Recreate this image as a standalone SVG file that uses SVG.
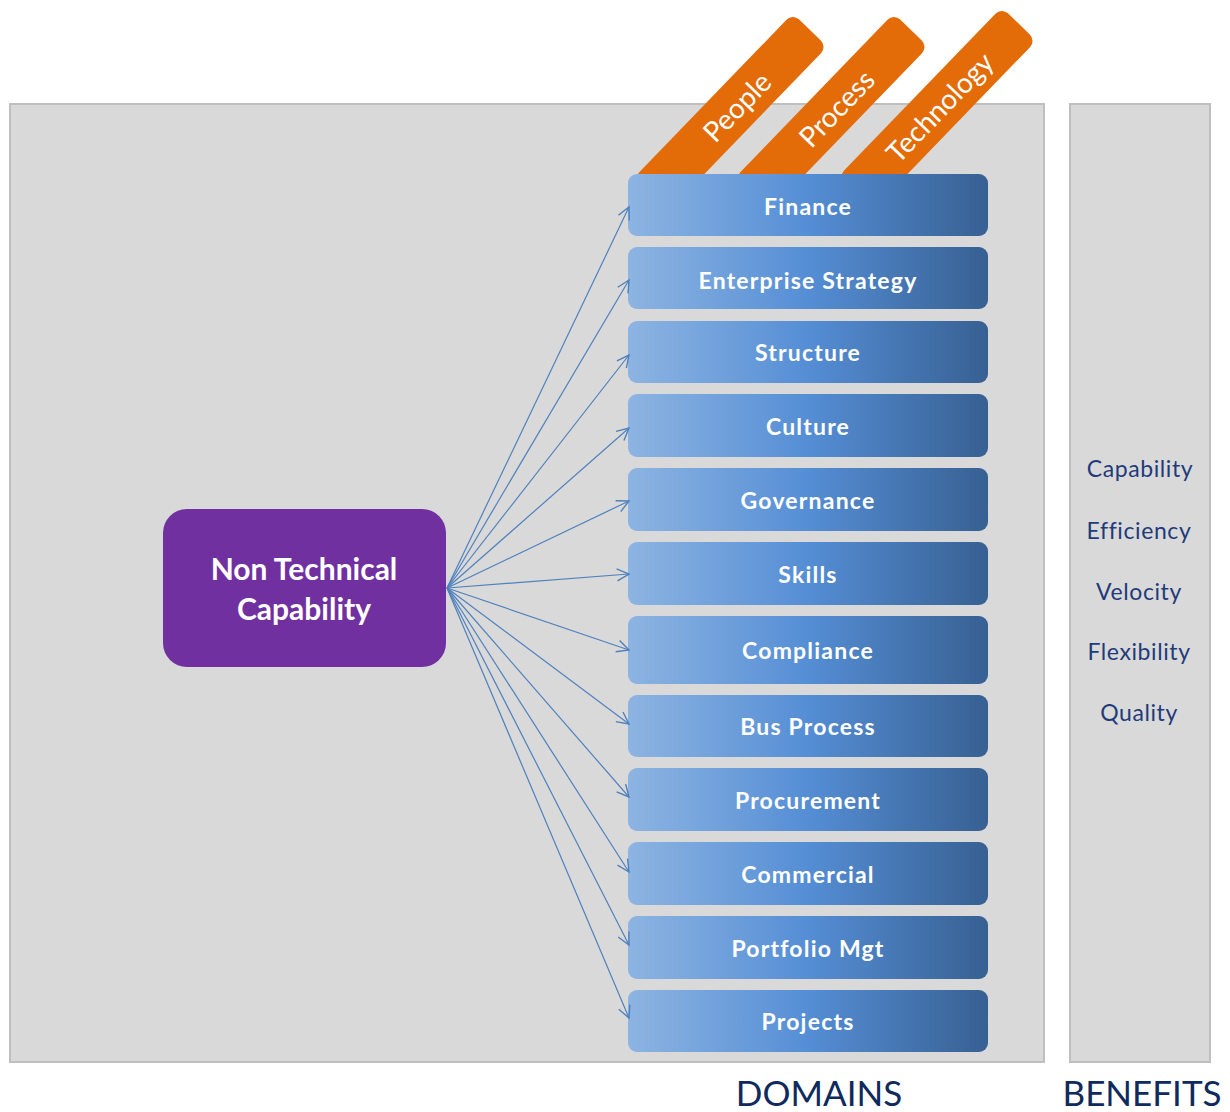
<svg xmlns="http://www.w3.org/2000/svg" width="1230" height="1112" viewBox="0 0 1230 1112">
<defs>
<linearGradient id="blue" x1="0" y1="0" x2="1" y2="0">
<stop offset="0" stop-color="#8db4e2"/>
<stop offset="0.5" stop-color="#558ed5"/>
<stop offset="1" stop-color="#376092"/>
</linearGradient>
<marker id="arr" markerUnits="userSpaceOnUse" markerWidth="16" markerHeight="16" refX="13" refY="7" orient="auto">
<path d="M1,1 L13,7 L1,13" fill="none" stroke="#4f81bd" stroke-width="1.4"/>
</marker>
<style>
.panel{fill:#d9d9d9;stroke:#bfbfbf;stroke-width:2}
.tab{fill:#e36c09}
.tabt{font-family:Lato,"Liberation Sans",sans-serif;font-size:28px;fill:#ffffff;text-anchor:middle;dominant-baseline:central}
.dom{fill:url(#blue)}
.domt{font-family:Lato,"Liberation Sans",sans-serif;font-weight:bold;font-size:23px;letter-spacing:1.2px;fill:#ffffff;text-anchor:middle;dominant-baseline:central}
.conn line{stroke:#4f81bd;stroke-width:1.2;marker-end:url(#arr)}
.ben{font-family:Lato,"Liberation Sans",sans-serif;font-size:23px;letter-spacing:0.6px;fill:#1f3b7a;text-anchor:middle;dominant-baseline:central}
.cap{font-family:Lato,"Liberation Sans",sans-serif;font-size:35px;fill:#0f2a5c;text-anchor:middle}
.ntc{font-family:Lato,"Liberation Sans",sans-serif;font-weight:bold;font-size:30px;fill:#ffffff;text-anchor:middle}
</style>
</defs>
<rect width="1230" height="1112" fill="#ffffff"/>
<rect class="panel" x="10" y="104" width="1034" height="958"/>
<rect class="panel" x="1070" y="104" width="140" height="958"/>

<g id="tab-people" transform="translate(810,30) rotate(-46)">
<rect class="tab" x="-230" y="-24" width="230" height="48" rx="9"/>
<text class="tabt" x="-106" y="0">People</text>
</g>
<g id="tab-process" transform="translate(911,30) rotate(-46)">
<rect class="tab" x="-230" y="-24" width="230" height="48" rx="9"/>
<text class="tabt" x="-108" y="0">Process</text>
</g>
<g id="tab-technology" transform="translate(1019,24) rotate(-46)">
<rect class="tab" x="-236" y="-24" width="236" height="48" rx="9"/>
<text class="tabt" x="-115" y="0">Technology</text>
</g>

<g id="n-finance"><rect class="dom" x="628" y="174" width="360" height="62" rx="9"/><text class="domt" x="808" y="206">Finance</text></g>
<g id="n-enterprise"><rect class="dom" x="628" y="247" width="360" height="62" rx="9"/><text class="domt" x="808" y="280">Enterprise Strategy</text></g>
<g id="n-structure"><rect class="dom" x="628" y="321" width="360" height="62" rx="9"/><text class="domt" x="808" y="352">Structure</text></g>
<g id="n-culture"><rect class="dom" x="628" y="394" width="360" height="63" rx="9"/><text class="domt" x="808" y="426">Culture</text></g>
<g id="n-governance"><rect class="dom" x="628" y="468" width="360" height="63" rx="9"/><text class="domt" x="808" y="500">Governance</text></g>
<g id="n-skills"><rect class="dom" x="628" y="542" width="360" height="63" rx="9"/><text class="domt" x="808" y="574">Skills</text></g>
<g id="n-compliance"><rect class="dom" x="628" y="616" width="360" height="68" rx="9"/><text class="domt" x="808" y="650">Compliance</text></g>
<g id="n-busprocess"><rect class="dom" x="628" y="695" width="360" height="62" rx="9"/><text class="domt" x="808" y="726">Bus Process</text></g>
<g id="n-procurement"><rect class="dom" x="628" y="768" width="360" height="63" rx="9"/><text class="domt" x="808" y="800">Procurement</text></g>
<g id="n-commercial"><rect class="dom" x="628" y="842" width="360" height="63" rx="9"/><text class="domt" x="808" y="874">Commercial</text></g>
<g id="n-portfolio"><rect class="dom" x="628" y="916" width="360" height="63" rx="9"/><text class="domt" x="808" y="948">Portfolio Mgt</text></g>
<g id="n-projects"><rect class="dom" x="628" y="990" width="360" height="62" rx="9"/><text class="domt" x="808" y="1021">Projects</text></g>

<g id="n-ntc">
<rect x="163" y="509" width="283" height="158" rx="24" fill="#7030a0"/>
<text class="ntc" x="304" y="580">Non Technical</text>
<text class="ntc" x="304" y="620">Capability</text>
</g>

<g id="connectors" class="conn">
<line x1="447" y1="588" x2="629" y2="207"/>
<line x1="447" y1="588" x2="629" y2="280"/>
<line x1="447" y1="588" x2="629" y2="355"/>
<line x1="447" y1="588" x2="629" y2="428"/>
<line x1="447" y1="588" x2="629" y2="501"/>
<line x1="447" y1="588" x2="629" y2="574"/>
<line x1="447" y1="588" x2="629" y2="650"/>
<line x1="447" y1="588" x2="629" y2="724"/>
<line x1="447" y1="588" x2="629" y2="797"/>
<line x1="447" y1="588" x2="629" y2="872"/>
<line x1="447" y1="588" x2="629" y2="945"/>
<line x1="447" y1="588" x2="629" y2="1018"/>
</g>

<g id="benefits">
<text class="ben" x="1140" y="468">Capability</text>
<text class="ben" x="1139" y="530">Efficiency</text>
<text class="ben" x="1139" y="591">Velocity</text>
<text class="ben" x="1139" y="651">Flexibility</text>
<text class="ben" x="1139" y="712">Quality</text>
</g>

<text class="cap" x="819" y="1106">DOMAINS</text>
<text class="cap" x="1142" y="1106">BENEFITS</text>
</svg>
